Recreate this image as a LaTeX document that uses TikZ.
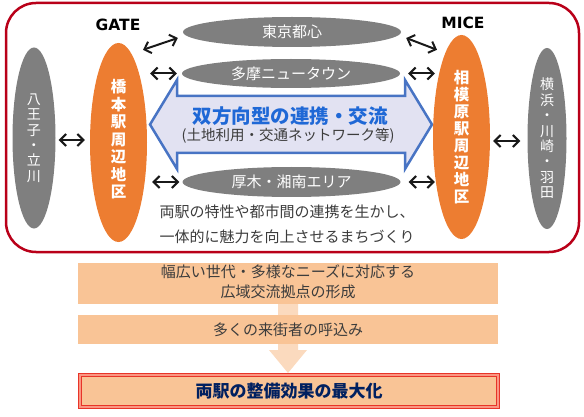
\documentclass[tikz,border=0pt]{standalone}
\usepackage{fontspec}
\setmainfont{Noto Sans CJK JP}
\newfontfamily\latinbold{DejaVu Sans}
\usetikzlibrary{shapes.geometric,arrows.meta,calc}
\definecolor{frame}{RGB}{185,0,25}
\definecolor{og}{RGB}{237,125,49}
\definecolor{gy}{RGB}{127,127,127}
\definecolor{lav}{RGB}{226,226,242}
\definecolor{arblue}{RGB}{72,116,196}
\definecolor{txblue}{RGB}{31,104,214}
\definecolor{boxfill}{RGB}{249,196,150}
\definecolor{bgarrow}{RGB}{251,218,190}
\definecolor{navy}{RGB}{0,32,96}
\definecolor{redline}{RGB}{232,52,40}
\definecolor{pinkgap}{RGB}{250,150,130}
\definecolor{dtext}{RGB}{60,60,60}
\begin{document}
\begin{tikzpicture}[x=1pt,y=-1pt,
  ell/.style={ellipse,inner sep=0pt,draw=none},
  grayell/.style={ell,fill=gy},
  orell/.style={ell,fill=og},
  wtext/.style={text=white,align=center,inner sep=0pt},
  dar/.style={{Straight Barb[length=6pt,width=12pt]}-{Straight Barb[length=6pt,width=12pt]},line width=2pt,black!90},
  boxstyle/.style={rectangle,fill=boxfill,draw=none,inner sep=0pt,text=dtext,font=\fontsize{15}{20}\selectfont},
  ttl/.style={font=\latinbold\bfseries\fontsize{15.5}{18}\selectfont,inner sep=0pt,text=black}
]
\useasboundingbox (0,0) rectangle (584,417);

% outer frame
\draw[frame,line width=2.5pt,rounded corners=30pt] (6,3) rectangle (579,252);

% big double arrow
\draw[arblue,fill=lav,line width=2.5pt,line join=miter]
  (150,124.5) -- (177,80) -- (177,96) -- (405,96) -- (405,80) -- (432,124.5)
  -- (405,169) -- (405,153) -- (177,153) -- (177,169) -- cycle;
\node[text=txblue,font=\bfseries\fontsize{19.5}{22}\selectfont,inner sep=0pt] (coop) at (290,116) {双方向型の連携・交流};
\node[text=dtext,font=\fontsize{14.5}{17}\selectfont,inner sep=0pt] (coopsub) at (288,136) {(土地利用・交通ネットワーク等)};

% ellipses
\node[grayell,minimum width=43pt,minimum height=181pt] (hachi) at (34,138) {};
\node[orell,minimum width=57pt,minimum height=199pt] (hashi) at (118.5,142.5) {};
\node[orell,minimum width=57pt,minimum height=204pt] (sagami) at (461.5,137) {};
\node[grayell,minimum width=39pt,minimum height=181pt] (yoko) at (547,138.5) {};
\node[grayell,minimum width=218pt,minimum height=30pt] (tokyo) at (292,32) {};
\node[grayell,minimum width=218pt,minimum height=29pt] (tama) at (291,73.5) {};
\node[grayell,minimum width=218pt,minimum height=30pt] (atsugi) at (291.5,182) {};

% ellipse texts
\node[wtext,font=\fontsize{14}{15.4}\selectfont] (hachit) at (hachi.center) {八\\王\\子\\・\\立\\川};
\node[wtext,font=\bfseries\fontsize{15.5}{17.5}\selectfont] (hashit) at ([yshift=3pt]hashi.center) {橋\\本\\駅\\周\\辺\\地\\区};
\node[wtext,font=\bfseries\fontsize{15.5}{16.9}\selectfont] (sagamit) at (sagami.center) {相\\模\\原\\駅\\周\\辺\\地\\区};
\node[wtext,font=\fontsize{14}{15.4}\selectfont] (yokot) at (yoko.center) {横\\浜\\・\\川\\崎\\・\\羽\\田};
\node[wtext,font=\fontsize{15}{17}\selectfont] (tokyot) at (tokyo.center) {東京都心};
\node[wtext,font=\fontsize{15}{17}\selectfont] (tamat) at (tama.center) {多摩ニュータウン};
\node[wtext,font=\fontsize{15}{17}\selectfont] (atsugit) at (atsugi.center) {厚木・湘南エリア};

% titles
\node[ttl] (gate) at (118,25) {GATE};
\node[ttl] (mice) at (463,23) {MICE};

% connectors
\draw[dar] ($(hashi.north)+(24.5,7)$) -- ($(tokyo.west)+(-5,6)$);
\draw[dar] ($(tokyo.east)+(5,6)$) -- ($(sagami.north)+(-24.5,15)$);
\draw[dar,shorten <=3pt,shorten >=5pt] (hashi.east |- tama.west) -- (tama.west);
\draw[dar,shorten <=8pt,shorten >=-2pt] (tama.east) -- (sagami.west |- tama.east);
\draw[dar,shorten <=5pt,shorten >=3pt] (hashi.east |- atsugi.west) -- (atsugi.west);
\draw[dar,shorten <=8pt,shorten >=-2pt] (atsugi.east) -- (sagami.west |- atsugi.east);
\draw[dar,shorten <=3pt,shorten >=5pt] ([yshift=-2pt]hachi.east) -- ([yshift=-2pt]hashi.west |- hachi.east);
\draw[dar,shorten <=3pt,shorten >=7pt] ([yshift=-4pt]sagami.east) -- ([yshift=-4pt]yoko.west |- sagami.east);

% description
\node[text=dtext,align=left,font=\fontsize{15}{25}\selectfont,inner sep=0pt] (desc) at (287,224.5)
  {両駅の特性や都市間の連携を生かし、\\一体的に魅力を向上させるまちづくり};

% background arrow
\fill[bgarrow] (278,270) -- (298,270) -- (298,350) -- (307,350) -- (288,373) -- (269,350) -- (278,350) -- cycle;

% boxes
\node[boxstyle,minimum width=420pt,minimum height=41pt] (box1) at (288,283.5)
  {\begin{tabular}{@{}c@{}}幅広い世代・多様なニーズに対応する\\[-0.5pt]広域交流拠点の形成\end{tabular}};
\node[boxstyle,minimum width=420pt,minimum height=29pt] (box2) at (288,329.5)
  {多くの来街者の呼込み};
\node[rectangle,fill=boxfill,draw=redline,double=pinkgap,double distance=2pt,line width=1.2pt,
  minimum width=417.6pt,minimum height=31.6pt,inner sep=0pt,text=navy,
  font=\bfseries\fontsize{17}{20}\selectfont] (final) at (289,391) {両駅の整備効果の最大化};
\end{tikzpicture}
\end{document}
